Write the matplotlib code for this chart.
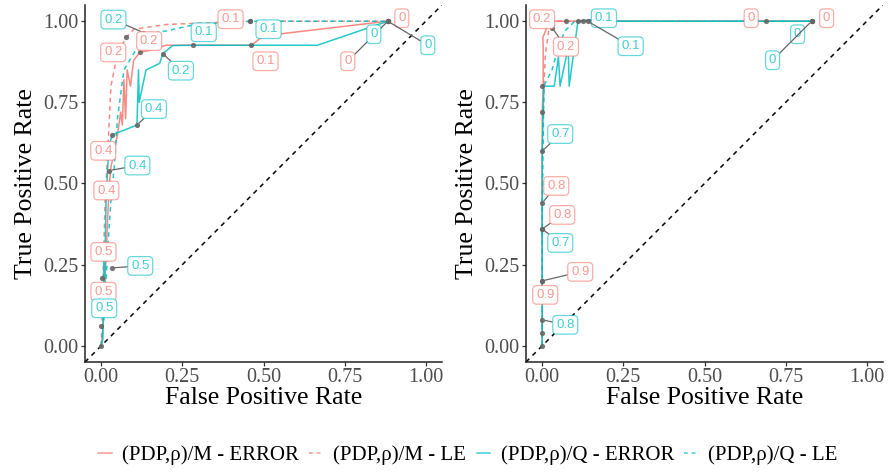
import matplotlib
matplotlib.use("Agg")
import matplotlib.pyplot as plt
from matplotlib.colors import to_rgba
from matplotlib.lines import Line2D

# colours of the two groups
col_m = "#F8766D"
col_q = "#00BFC4"

# ---------------- left panel curves ----------------
l_m_err_x = [0, 0.005, 0.01, 0.015, 0.02, 0.025, 0.03, 0.04, 0.05, 0.06, 0.065, 0.07, 0.075, 0.08, 0.09, 0.1, 0.12, 0.15, 0.2, 0.28, 0.463, 0.5, 0.883]
l_m_err_y = [0, 0.05, 0.17, 0.28, 0.4, 0.5, 0.55, 0.6, 0.65, 0.72, 0.68, 0.82, 0.7, 0.85, 0.8, 0.88, 0.905, 0.91, 0.926, 0.926, 0.926, 0.955, 1.0]
l_m_le_x = [0, 0.003, 0.008, 0.012, 0.02, 0.025, 0.03, 0.04, 0.05, 0.077, 0.1, 0.2, 0.457, 0.883]
l_m_le_y = [0, 0.1, 0.3, 0.45, 0.6, 0.7, 0.8, 0.85, 0.9, 0.95, 0.975, 0.99, 1.0, 1.0]
l_q_err_x = [0, 0.005, 0.008, 0.01, 0.012, 0.015, 0.02, 0.025, 0.034, 0.11, 0.115, 0.117, 0.138, 0.18, 0.19, 0.22, 0.28, 0.463, 0.666, 0.883]
l_q_err_y = [0, 0.02, 0.26, 0.1, 0.3, 0.45, 0.55, 0.62, 0.65, 0.68, 0.85, 0.75, 0.85, 0.87, 0.9, 0.925, 0.926, 0.926, 0.926, 1.0]
l_q_le_x = [0, 0.01, 0.02, 0.03, 0.04, 0.05, 0.07, 0.1, 0.135, 0.2, 0.29, 0.457, 0.883]
l_q_le_y = [0, 0.1, 0.3, 0.45, 0.55, 0.7, 0.85, 0.9, 0.96, 0.97, 0.99, 1.0, 1.0]

# threshold labels: text, group, point
l_lab_text = ["0", "0", "0", "0", "0.1", "0.1", "0.1", "0.1", "0.2", "0.2", "0.2", "0.2",
              "0.4", "0.4", "0.4", "0.4", "0.5", "0.5", "0.5", "0.5"]
l_lab_grp = ["M", "M", "Q", "Q", "M", "M", "Q", "Q", "Q", "M", "M", "Q",
             "Q", "Q", "M", "M", "Q", "M", "M", "Q"]
l_lab_x = [0.883, 0.883, 0.883, 0.883, 0.457, 0.463, 0.457, 0.282, 0.13, 0.077, 0.12, 0.19,
           0.11, 0.025, 0.034, 0.025, 0.034, 0.01, 0.01, 0.0]
l_lab_y = [1.0, 1.0, 1.0, 1.0, 1.0, 0.926, 1.0, 0.926, 0.965, 0.95, 0.905, 0.9,
           0.68, 0.54, 0.65, 0.5, 0.24, 0.28, 0.17, 0.06]
l_extra_x = [0.0, 0.003]
l_extra_y = [0.0, 0.21]

# ---------------- right panel curves ----------------
r_m_err_x = [0, 0, 0, 0, 0.003, 0.003, 0.002, 0.01, 0.018, 0.1, 0.69, 0.83]
r_m_err_y = [0, 0.2, 0.44, 0.72, 0.8, 0.92, 0.95, 0.97, 1.0, 1.0, 1.0, 1.0]
r_m_le_x = [0, 0, 0, 0.005, 0.01, 0.02, 0.05, 0.1, 0.83]
r_m_le_y = [0, 0.3, 0.6, 0.8, 0.9, 0.97, 1.0, 1.0, 1.0]
r_q_err_x = [0, 0, 0, 0, 0.005, 0.037, 0.05, 0.055, 0.08, 0.083, 0.11, 0.83]
r_q_err_y = [0, 0.2, 0.44, 0.6, 0.8, 0.8, 0.89, 0.8, 0.92, 0.8, 1.0, 1.0]
r_q_le_x = [0, 0, 0.005, 0.03, 0.05, 0.07, 0.1, 0.83]
r_q_le_y = [0, 0.4, 0.8, 0.85, 0.92, 0.97, 1.0, 1.0]

r_lab_text = ["0", "0", "0", "0", "0.2", "0.2", "0.1", "0.1", "0.7", "0.8", "0.8",
              "0.7", "0.9", "0.9", "0.8"]
r_lab_grp = ["M", "Q", "Q", "M", "M", "M", "Q", "Q", "Q", "M", "M",
             "Q", "M", "M", "Q"]
r_lab_x = [0.83, 0.83, 0.83, 0.69, 0.018, 0.03, 0.11, 0.14, 0.0, 0.0, 0.0,
           0.0, 0.0, 0.0, 0.0]
r_lab_y = [1.0, 1.0, 1.0, 1.0, 1.0, 0.98, 1.0, 1.0, 0.6, 0.44, 0.36,
           0.36, 0.2, 0.2, 0.08]
r_extra_x = [0.0, 0.0, 0.0, 0.0, 0.073, 0.125]
r_extra_y = [0.0, 0.04, 0.72, 0.8, 1.0, 1.0]

# label placement (pixel offsets from the point, repel-like)
l_off = [(14, 3), (-40, -40), (-14, -13), (40, -24), (-19, 2), (14, -16), (19, -8), (11, 13),
         (-30, 13), (-13, -15), (9, 11), (18, -17), (17, 16), (28, 5), (-9, -16), (-3, -7),
         (28, 2), (-1, 3), (-1, -1), (3, 18)]
r_off = [(15, 3), (-14, -13), (-39, -39), (-15, 3), (-6, 2), (14, -19), (26, 3), (43, -25),
         (18, 17), (14, 17), (20, 14), (18, -14), (38, 9), (3, -14), (23, -5)]

serif = ["Liberation Serif", "DejaVu Serif"]
sans = ["Liberation Sans", "DejaVu Sans"]

fig = plt.figure(figsize=(8.89, 4.74), dpi=100)
ax_l = fig.add_axes([85 / 889, 112 / 474, 357 / 889, 357 / 474])
ax_r = fig.add_axes([526 / 889, 112 / 474, 357 / 889, 357 / 474])


def draw(ax, curves, lab_text, lab_grp, lab_x, lab_y, offs, extra_x, extra_y):
    ax.plot([-0.05, 1.05], [-0.05, 1.05], ls=(0, (3, 3)), color="black", lw=1.1, zorder=1)
    for xs, ys, c, ls in curves:
        ax.plot(xs, ys, color=c, ls=ls, lw=1.1, alpha=0.85, zorder=2)
    ax.scatter(lab_x + extra_x, lab_y + extra_y, s=14, color="#666666", alpha=0.9, zorder=3,
               linewidths=0)
    for t, g, x, y, (dx, dy) in zip(lab_text, lab_grp, lab_x, lab_y, offs):
        c = col_m if g == "M" else col_q
        far = (dx * dx + dy * dy) ** 0.5 > 22
        ax.annotate(t, (x, y), xytext=(dx, dy), textcoords="offset pixels",
                    ha="center", va="center", fontsize=9.5, family=sans,
                    color=to_rgba(c, 0.75), zorder=4,
                    bbox=dict(boxstyle="round,pad=0.25,rounding_size=0.3", fc="white",
                              ec=to_rgba(c, 0.6), lw=0.9),
                    arrowprops=dict(arrowstyle="-", color="#666666", lw=0.9,
                                    shrinkA=0, shrinkB=2) if far else None)
    ax.set_xlim(-0.05, 1.05)
    ax.set_ylim(-0.05, 1.05)
    ticks = [0, 0.25, 0.5, 0.75, 1.0]
    ax.set_xticks(ticks)
    ax.set_yticks(ticks)
    ax.set_xticklabels(["%.2f" % t for t in ticks])
    ax.set_yticklabels(["%.2f" % t for t in ticks])
    for sp in ["top", "right"]:
        ax.spines[sp].set_visible(False)
    for sp in ["left", "bottom"]:
        ax.spines[sp].set_linewidth(1.1)
        ax.spines[sp].set_color("#222222")
    ax.tick_params(length=3, width=0.9, color="#333333", labelsize=14.5,
                   labelcolor="#4D4D4D", pad=1.5)
    for lab in ax.get_xticklabels() + ax.get_yticklabels():
        lab.set_family(serif)
    ax.set_xlabel("False Positive Rate", family=serif, fontsize=18.5, labelpad=0)
    ax.set_ylabel("True Positive Rate", family=serif, fontsize=18.5, labelpad=5)


draw(ax_l, [(l_m_err_x, l_m_err_y, col_m, "-"), (l_m_le_x, l_m_le_y, col_m, (0, (3, 2.5))),
            (l_q_err_x, l_q_err_y, col_q, "-"), (l_q_le_x, l_q_le_y, col_q, (0, (3, 2.5)))],
     l_lab_text, l_lab_grp, l_lab_x, l_lab_y, l_off, l_extra_x, l_extra_y)
draw(ax_r, [(r_m_err_x, r_m_err_y, col_m, "-"), (r_m_le_x, r_m_le_y, col_m, (0, (3, 2.5))),
            (r_q_err_x, r_q_err_y, col_q, "-"), (r_q_le_x, r_q_le_y, col_q, (0, (3, 2.5)))],
     r_lab_text, r_lab_grp, r_lab_x, r_lab_y, r_off, r_extra_x, r_extra_y)

handles = [Line2D([], [], color=col_m, lw=1.1, alpha=0.75),
           Line2D([], [], color=col_m, lw=1.1, alpha=0.75, ls=(0, (2.5, 2.5))),
           Line2D([], [], color=col_q, lw=1.1, alpha=0.75),
           Line2D([], [], color=col_q, lw=1.1, alpha=0.75, ls=(0, (2.5, 2.5)))]
names = ["(PDP,ρ)/M - ERROR", "(PDP,ρ)/M - LE", "(PDP,ρ)/Q - ERROR", "(PDP,ρ)/Q - LE"]
fig.legend(handles, names, loc="center", bbox_to_anchor=(468 / 889, 1 - 455 / 474), ncol=4,
           frameon=False, prop={"family": serif, "size": 15}, handlelength=0.65,
           handletextpad=0.5, columnspacing=0.5)

fig.savefig("out.png", dpi=100)
